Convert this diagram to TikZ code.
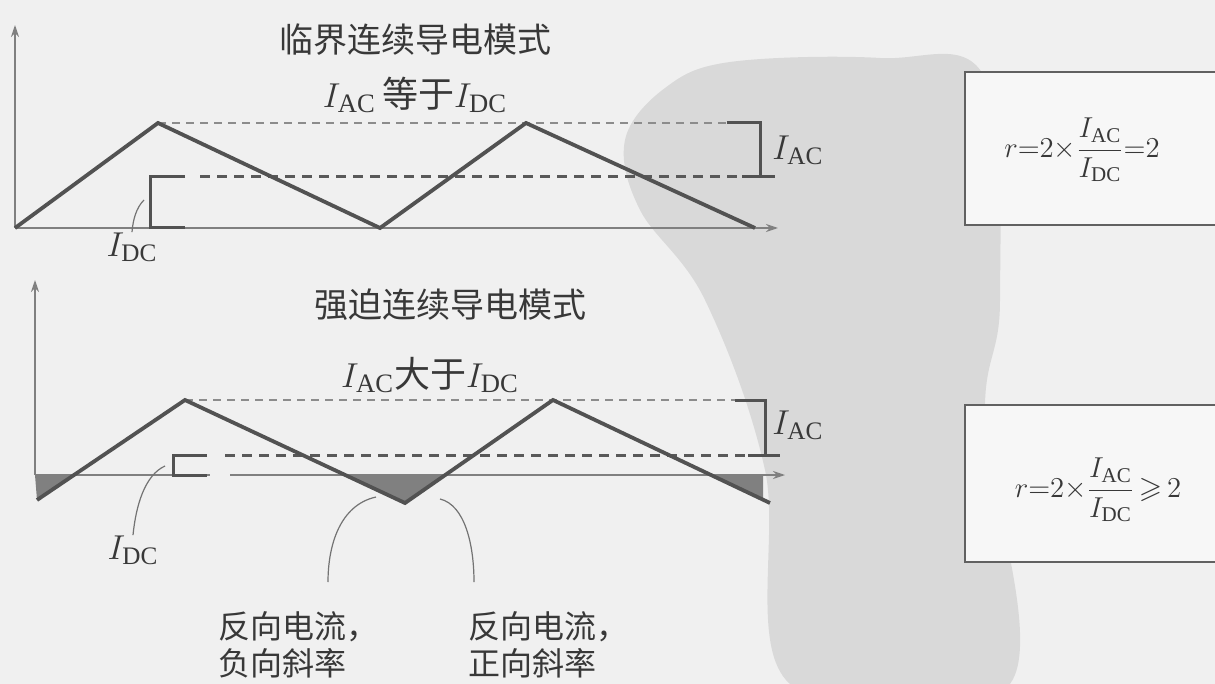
\documentclass[tikz,border=0pt]{standalone}
\usepackage{amsmath,amssymb}
\usepackage{fontspec}
\setmainfont{Liberation Serif}
\newfontfamily\cjk{Noto Sans CJK SC}
\usetikzlibrary{arrows.meta}
\begin{document}
\begin{tikzpicture}[x=0.5pt,y=-0.5pt,
  axisline/.style={draw=black!50, line width=0.8pt},
  axisarrow/.style={axisline, -{Stealth[length=6pt,width=4pt]}},
  wave/.style={draw=black!68, line width=1.9pt, line join=miter},
  thindash/.style={draw=black!45, line width=0.7pt, dash pattern=on 4pt off 3pt},
  thickdash/.style={draw=black!65, line width=1.5pt, dash pattern=on 5pt off 3.5pt},
  brk/.style={draw=black!68, line width=1.5pt},
  lead/.style={draw=black!55, line width=0.6pt},
  neg/.style={fill=black!50},
  cn/.style={font=\cjk\fontsize{17}{20}\selectfont, text=black!78, inner sep=0pt},
  cnsmall/.style={font=\cjk\fontsize{16}{18.5}\selectfont, text=black!78, inner sep=0pt, align=left},
  lbl/.style={font=\fontsize{18}{20}\selectfont, text=black!78, inner sep=0pt},
  sublbl/.style={font=\fontsize{19}{21}\selectfont, text=black!78, inner sep=0pt},
  frm/.style={font=\fontsize{15}{18}\selectfont, text=black!78, inner sep=0pt},
  boxline/.style={draw=black!62, line width=1pt, fill=black!3},
]
% canvas
\useasboundingbox (0,0) rectangle (1215,684);
\fill[black!6] (0,0) rectangle (1215,684);
% scan blob
\fill[black!15] plot[smooth cycle, tension=0.6] coordinates {(625,140) (665,88) (730,62) (880,58) (985,78) (1000,300) (985,420) (1010,684) (790,684) (765,470) (705,300) (640,210)};

% ---------- top plot ----------
\coordinate (o1) at (15,228);
\coordinate (y1) at (15,25);
\coordinate (x1) at (778,228);
\draw[axisarrow] (o1) -- (y1);
\draw[axisarrow] (o1) -- (x1);
\coordinate (a0) at (15,228);
\coordinate (a1) at (158,123);
\coordinate (a2) at (380,228);
\coordinate (a3) at (526,123);
\coordinate (a4) at (755,228);
\draw[thindash] (a1) -- (727,123);
\draw[thickdash] (200,177) -- (742,177);
\draw[wave] (a0) -- (a1) -- (a2) -- (a3) -- (a4);
\coordinate (t1) at (727,123);
\coordinate (t2) at (760,123);
\coordinate (t3) at (760,177);
\coordinate (t4) at (775,177);
\draw[brk] (t1) -- (t2) -- (t3) -- (t4);
\draw[brk] (742,177) -- (t3);
\coordinate (d1) at (185,177);
\coordinate (d2) at (150,177);
\coordinate (d3) at (150,228);
\coordinate (d4) at (185,228);
\draw[brk] (d1) -- (d2) -- (d3) -- (d4);
\node[lbl, anchor=west] (iac1) at (772,150) {$I_{\mathrm{AC}}$};
\node[lbl] (idc1) at (132,247) {$I_{\mathrm{DC}}$};
\coordinate (l1) at (144,200);
\draw[lead] (l1) .. controls (136,208) and (133,220) .. (idc1.north);
\node[cn] (title1) at (415,40) {临界连续导电模式};
\node[sublbl] (sub1) at (415,95) {$I_{\mathrm{AC}}$\,{\cjk\fontsize{18}{20}\selectfont 等于}$I_{\mathrm{DC}}$};

% ---------- bottom plot ----------
\coordinate (o2) at (35,475);
\coordinate (y2) at (35,280);
\coordinate (x2) at (785,475);
\fill[neg] (35,475) -- (74,475) -- (37,500) -- cycle;
\fill[neg] (345,475) -- (405,503) -- (445,475) -- cycle;
\fill[neg] (711,475) -- (763,475) -- (763,500) -- cycle;
\draw[axisarrow] (o2) -- (y2);
\draw[axisline] (o2) -- (210,475);
\draw[axisarrow] (230,475) -- (x2);
\coordinate (b0) at (37,500);
\coordinate (b1) at (185,400);
\coordinate (b2) at (405,503);
\coordinate (b3) at (553,400);
\coordinate (b4) at (770,503);
\draw[thindash] (b1) -- (735,400);
\draw[thickdash] (225,455) -- (748,455);
\draw[wave] (b0) -- (b1) -- (b2) -- (b3) -- (b4);
\coordinate (u1) at (735,400);
\coordinate (u2) at (765,400);
\coordinate (u3) at (765,455);
\coordinate (u4) at (780,455);
\draw[brk] (u1) -- (u2) -- (u3) -- (u4);
\draw[brk] (748,455) -- (u3);
\coordinate (e1) at (207,455);
\coordinate (e2) at (173,455);
\coordinate (e3) at (173,475);
\coordinate (e4) at (207,475);
\draw[brk] (e1) -- (e2) -- (e3) -- (e4);
\node[lbl, anchor=west] (iac2) at (772,425) {$I_{\mathrm{AC}}$};
\node[lbl] (idc2) at (133,550) {$I_{\mathrm{DC}}$};
\coordinate (l2) at (165,466);
\draw[lead] (l2) .. controls (145,475) and (136,505) .. (idc2.north);
\node[cn] (title2) at (450,305) {强迫连续导电模式};
\node[sublbl] (sub2) at (430,375) {$I_{\mathrm{AC}}${\cjk\fontsize{18}{20}\selectfont 大于}$I_{\mathrm{DC}}$};
\node[cnsmall, anchor=west] (neg1) at (218,645) {反向电流，\\负向斜率};
\node[cnsmall, anchor=west] (neg2) at (468,645) {反向电流，\\正向斜率};
\coordinate (v1) at (376,497);
\coordinate (v2) at (440,499);
\draw[lead] (v1) .. controls (340,505) and (328,545) .. (328,582);
\draw[lead] (v2) .. controls (465,505) and (474,545) .. (474,582);

% ---------- boxes ----------
\draw[boxline] (1216,72) -- (965,72) -- (965,225) -- (1216,225);
\node[frm] (f1) at (1082,150) {$r{=}2{\times}\dfrac{I_{\mathrm{AC}}}{I_{\mathrm{DC}}}{=}2$};
\draw[boxline] (1216,405) -- (965,405) -- (965,562) -- (1216,562);
\node[frm] (f2) at (1098,490) {$r{=}2{\times}\dfrac{I_{\mathrm{AC}}}{I_{\mathrm{DC}}}\,{\geqslant}\,2$};
\end{tikzpicture}
\end{document}
